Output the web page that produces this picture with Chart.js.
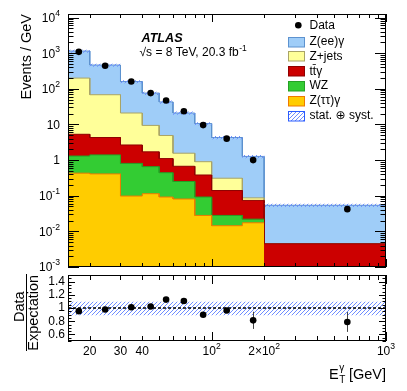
<!DOCTYPE html>
<html>
<head>
<meta charset="utf-8">
<title>Z(ee)γ photon ET</title>
<script src="https://cdn.jsdelivr.net/npm/chart.js@4.4.1/dist/chart.umd.min.js"></script>
<style>
  body { margin: 0; background: #fff; }
  #wrap { position: relative; width: 407px; height: 391px; overflow: hidden; }
  canvas { position: absolute; left: 0; }
  #mainChart { top: 0; }
  #ratioChart { top: 271px; }
</style>
</head>
<body>
<div id="wrap">
  <canvas id="mainChart" width="407" height="271"></canvas>
  <canvas id="ratioChart" width="407" height="120"></canvas>
</div>
<script>
const FONT = "'Liberation Sans', Arial, Helvetica, 'DejaVu Sans', sans-serif";

// photon ET bin edges [GeV]
const binEdges = [15, 20, 30, 40, 50, 60, 80, 100, 150, 200, 1000];

// expected events / GeV per process
const zeeGamma = [950, 397, 139, 66.6, 38, 19.4, 9.7, 4.0, 1.18, 0.0495];
const zJets    = [195, 64, 18.3, 7.7, 3.8, 0.89, 0.52, 0.17, 0.013, 0];
const ttGamma  = [4.0, 2.9, 1.85, 1.05, 0.66, 0.42, 0.29, 0.112, 0.052, 0.0045];
const wz       = [0.87, 0.99, 0.71, 0.54, 0.35, 0.17, 0.064, 0.0136, 0.0046, 0];
const zTauTau  = [0.43, 0.41, 0.098, 0.114, 0.092, 0.081, 0.028, 0.0144, 0.0174, 0];

// data
const dataX = [17.3, 24.5, 34.6, 44.7, 54.8, 69.3, 89.4, 122, 173, 600];
const dataY = [1090, 445, 160, 76, 47, 23.4, 9.6, 4.0, 1.0, 0.042];

// data / expectation
const ratioY   = [0.952, 0.978, 1.012, 1.022, 1.127, 1.107, 0.898, 0.963, 0.813, 0.788];
const ratioErr = [0.02, 0.02, 0.02, 0.025, 0.03, 0.03, 0.035, 0.04, 0.13, 0.15];

// stat (+) syst band, relative to expectation
const bandUp   = [1.095, 1.095, 1.095, 1.095, 1.095, 1.095, 1.095, 1.095, 1.095, 1.095];
const bandDown = [0.89, 0.89, 0.89, 0.89, 0.89, 0.89, 0.89, 0.89, 0.89, 0.89];

// ticks
const yDecades = [-3, -2, -1, 0, 1, 2, 3, 4];
const xTickValues = [20, 30, 40, 100, 200, 1000];
const xTickLabels = [['20', ''], ['30', ''], ['40', ''], ['10', '2'], ['2×10', '2'], ['10', '3']];
const ratioTickValues = [0.6, 0.8, 1, 1.2, 1.4];
const ratioTickLabels = ['0.6', '0.8', '1', '1.2', '1.4'];

// colours
const COL = {
  zee:   { fill: '#9fcdf8', line: '#5d92cf' },
  zjets: { fill: '#ffff99', line: '#a9a467' },
  tt:    { fill: '#cc0000', line: '#8f0000' },
  wz:    { fill: '#33cc33', line: '#25a025' },
  ztt:   { fill: '#ffcc00', line: '#ee7a00' }
};
const HATCH = '#6e8dff';

function cumulate(parts) {
  return parts[0].map((_, i) => parts.reduce((s, p) => s + p[i], 0));
}

function steps(values) {
  const pts = [];
  values.forEach((v, i) => {
    const y = v > 0 ? v : null;
    pts.push({ x: binEdges[i], y }, { x: binEdges[i + 1], y });
  });
  return pts;
}

function makeHatch(ctx, color) {
  const s = 4;
  const c = document.createElement('canvas');
  c.width = s; c.height = s;
  const g = c.getContext('2d');
  g.strokeStyle = color;
  g.lineWidth = 1;
  g.beginPath();
  g.moveTo(0, s); g.lineTo(s, 0);
  g.moveTo(-1, 1); g.lineTo(1, -1);
  g.moveTo(s - 1, s + 1); g.lineTo(s + 1, s - 1);
  g.stroke();
  return ctx.createPattern(c, 'repeat');
}

function histSet(label, values, col) {
  return {
    label, data: steps(values),
    borderColor: col.line, borderWidth: 1, backgroundColor: col.fill,
    fill: 'start', pointRadius: 0, tension: 0
  };
}

// text with optional superscript, aligned on x ('left' | 'center' | 'right')
function supText(ctx, base, sup, x, y, size, align) {
  ctx.font = `${size}px ${FONT}`;
  const wb = ctx.measureText(base).width;
  const ss = size * 0.72;
  ctx.font = `${ss}px ${FONT}`;
  const ws = sup ? ctx.measureText(sup).width : 0;
  const tot = wb + ws;
  const x0 = align === 'right' ? x - tot : align === 'center' ? x - tot / 2 : x;
  ctx.textAlign = 'left';
  ctx.textBaseline = 'middle';
  ctx.font = `${size}px ${FONT}`;
  ctx.fillText(base, x0, y);
  if (sup) {
    ctx.font = `${ss}px ${FONT}`;
    ctx.fillText(sup, x0 + wb, y - size * 0.42);
  }
}

function drawXTicks(ctx, a, x, minorLen, majorLen) {
  for (let d = 1; d <= 3; d++) {
    for (let k = 1; k <= 9; k++) {
      const v = k * Math.pow(10, d);
      if (v < x.min || v > x.max) continue;
      const px = Math.round(x.getPixelForValue(v)) + 0.5;
      const len = k === 1 ? majorLen : minorLen;
      ctx.moveTo(px, a.bottom); ctx.lineTo(px, a.bottom - len);
      ctx.moveTo(px, a.top); ctx.lineTo(px, a.top + len);
    }
  }
}

function drawFrame(ctx, a) {
  ctx.strokeRect(Math.round(a.left) + 0.5, Math.round(a.top) + 0.5,
    Math.round(a.right - a.left) - 1, Math.round(a.bottom - a.top) - 1);
}

const cumZtt = zTauTau;
const cumWz = cumulate([zTauTau, wz]);
const cumTt = cumulate([zTauTau, wz, ttGamma]);
const cumZj = cumulate([zTauTau, wz, ttGamma, zJets]);
const total = cumulate([zTauTau, wz, ttGamma, zJets, zeeGamma]);

const mainDecor = {
  id: 'mainDecor',
  afterDraw(chart) {
    const { ctx, chartArea: a, scales: { x, y } } = chart;
    ctx.save();
    ctx.strokeStyle = '#000';
    ctx.lineWidth = 1;
    ctx.beginPath();
    yDecades.forEach(d => {
      for (let k = 1; k <= 9; k++) {
        const v = k * Math.pow(10, d);
        if (v < y.min * 0.999 || v > y.max) continue;
        const py = Math.round(y.getPixelForValue(v)) + 0.5;
        const len = k === 1 ? 11 : 5.5;
        ctx.moveTo(a.left, py); ctx.lineTo(a.left + len, py);
        ctx.moveTo(a.right, py); ctx.lineTo(a.right - len, py);
      }
    });
    drawXTicks(ctx, a, x, 4, 8);
    ctx.stroke();
    drawFrame(ctx, a);

    // y tick labels
    ctx.fillStyle = '#000';
    yDecades.forEach(d => {
      const py = y.getPixelForValue(Math.pow(10, d)) + 1;
      if (d === 0) supText(ctx, '1', '', 60, py, 12, 'right');
      else if (d === 1) supText(ctx, '10', '', 60, py, 12, 'right');
      else supText(ctx, '10', String(d), 60, py, 12, 'right');
    });

    // y title
    ctx.save();
    ctx.translate(27, 14);
    ctx.rotate(-Math.PI / 2);
    ctx.font = `14.5px ${FONT}`;
    ctx.textAlign = 'right';
    ctx.textBaseline = 'middle';
    ctx.fillText('Events / GeV', 0, 0);
    ctx.restore();

    // ATLAS label
    ctx.textAlign = 'left';
    ctx.textBaseline = 'alphabetic';
    ctx.font = `italic bold 12.6px ${FONT}`;
    ctx.fillText('ATLAS', 141.5, 41.7);
    ctx.font = `12px ${FONT}`;
    const lumi = '√s = 8 TeV, 20.3 fb';
    ctx.fillText(lumi, 139.5, 56);
    const lw = ctx.measureText(lumi).width;
    ctx.font = `8.5px ${FONT}`;
    ctx.fillText('-1', 139.5 + lw + 0.5, 50.5);

    // legend
    ctx.textBaseline = 'middle';
    ctx.font = `12px ${FONT}`;
    ctx.beginPath();
    ctx.arc(298.3, 25.3, 3.3, 0, Math.PI * 2);
    ctx.fill();
    ctx.fillText('Data', 309.5, 25.3);
    const items = [
      ['Z(ee)γ', COL.zee], ['Z+jets', COL.zjets], ['tt\u0304γ', COL.tt],
      ['WZ', COL.wz], ['Z(ττ)γ', COL.ztt], ['stat. ⊕ syst.', null]
    ];
    items.forEach(([label, col], i) => {
      const cy = 41.7 + 14.76 * i;
      const bx = 288.5, by = Math.round(cy - 5) + 0.5;
      if (col) {
        ctx.fillStyle = col.fill;
        ctx.fillRect(bx, by, 16, 9.5);
        ctx.strokeStyle = col.line;
      } else {
        ctx.fillStyle = chart.$hatch;
        ctx.fillRect(bx, by, 16, 9.5);
        ctx.strokeStyle = '#2a5cff';
      }
      ctx.strokeRect(bx, by, 16, 9.5);
      ctx.fillStyle = '#000';
      ctx.fillText(label, 309.5, cy);
    });
    ctx.restore();
  }
};

const ratioDecor = {
  id: 'ratioDecor',
  afterDatasetDraw(chart, args) {
    if (args.index !== 1) return;
    const { ctx, scales: { x, y } } = chart;
    ctx.save();
    ctx.strokeStyle = '#444';
    ctx.lineWidth = 1;
    ctx.beginPath();
    ratioY.forEach((r, i) => {
      const px = Math.round(x.getPixelForValue(dataX[i])) + 0.5;
      ctx.moveTo(px, y.getPixelForValue(r + ratioErr[i]));
      ctx.lineTo(px, y.getPixelForValue(r - ratioErr[i]));
    });
    ctx.stroke();
    ctx.restore();
  },
  afterDraw(chart) {
    const { ctx, chartArea: a, scales: { x, y } } = chart;
    ctx.save();
    ctx.strokeStyle = '#000';
    ctx.lineWidth = 1;
    ctx.beginPath();
    for (let i = 0; i <= 20; i++) {
      const v = 0.5 + i * 0.05;
      const py = Math.round(y.getPixelForValue(v)) + 0.5;
      const major = ratioTickValues.some(t => Math.abs(t - v) < 1e-6);
      const len = major ? 7 : 3.5;
      ctx.moveTo(a.left, py); ctx.lineTo(a.left + len, py);
      ctx.moveTo(a.right, py); ctx.lineTo(a.right - len, py);
    }
    drawXTicks(ctx, a, x, 5, 9);
    ctx.stroke();
    drawFrame(ctx, a);

    ctx.fillStyle = '#000';
    ratioTickValues.forEach((v, i) => {
      supText(ctx, ratioTickLabels[i], '', 65, y.getPixelForValue(v), 12, 'right');
    });
    xTickValues.forEach((v, i) => {
      supText(ctx, xTickLabels[i][0], xTickLabels[i][1], x.getPixelForValue(v), 81, 12, 'center');
    });

    // y title as a fraction
    ctx.save();
    ctx.font = `14.5px ${FONT}`;
    ctx.textAlign = 'center';
    ctx.textBaseline = 'middle';
    ctx.translate(20, 35.7);
    ctx.rotate(-Math.PI / 2);
    ctx.fillText('Data', 0, 0);
    ctx.restore();
    ctx.save();
    ctx.font = `14.5px ${FONT}`;
    ctx.textAlign = 'center';
    ctx.textBaseline = 'middle';
    ctx.translate(34, 41.8);
    ctx.rotate(-Math.PI / 2);
    ctx.fillText('Expectation', 0, 0);
    ctx.restore();
    ctx.beginPath();
    ctx.moveTo(26.5, 3); ctx.lineTo(26.5, 80);
    ctx.stroke();

    // x title  E_T^gamma [GeV]
    const base = 108.3;
    ctx.textAlign = 'left';
    ctx.textBaseline = 'alphabetic';
    ctx.font = `14.5px ${FONT}`;
    const wE = ctx.measureText('E').width;
    const wRest = ctx.measureText(' [GeV]').width;
    ctx.font = `10px ${FONT}`;
    const wSub = Math.max(ctx.measureText('T').width, ctx.measureText('γ').width);
    const x0 = 386 - wRest - wSub - wE;
    ctx.font = `14.5px ${FONT}`;
    ctx.fillText('E', x0, base);
    ctx.fillText(' [GeV]', x0 + wE + wSub, base);
    ctx.font = `10px ${FONT}`;
    ctx.fillText('T', x0 + wE + 0.5, base + 4);
    ctx.fillText('γ', x0 + wE + 0.5, base - 8);
    ctx.restore();
  }
};

function baseOptions(yScale, padding) {
  return {
    responsive: false,
    animation: false,
    events: [],
    layout: { padding },
    plugins: { legend: { display: false }, tooltip: { enabled: false } },
    scales: {
      x: { type: 'logarithmic', min: 15, max: 1000, display: false },
      y: yScale
    }
  };
}

const ctxMain = document.getElementById('mainChart').getContext('2d');
const hatchMain = makeHatch(ctxMain, HATCH);

const mainChart = new Chart(ctxMain, {
  type: 'line',
  data: {
    datasets: [
      {
        label: 'Data', data: dataX.map((x, i) => ({ x, y: dataY[i] })),
        showLine: false, pointRadius: 3.3, pointBackgroundColor: '#000', pointBorderWidth: 0
      },
      {
        label: 'stat. ⊕ syst. up', data: steps(total.map((t, i) => t * bandUp[i])),
        borderColor: 'transparent', borderWidth: 0, backgroundColor: hatchMain, fill: '+1', pointRadius: 0
      },
      {
        label: 'stat. ⊕ syst. down', data: steps(total.map((t, i) => t * bandDown[i])),
        borderColor: 'transparent', borderWidth: 0, fill: false, pointRadius: 0
      },
      histSet('Z(ττ)γ', cumZtt, COL.ztt),
      histSet('WZ', cumWz, COL.wz),
      histSet('tt̄γ', cumTt, COL.tt),
      histSet('Z+jets', cumZj, COL.zjets),
      histSet('Z(ee)γ', total, COL.zee)
    ]
  },
  options: baseOptions({ type: 'logarithmic', min: 1e-3, max: Math.pow(10, 4.1), display: false },
    { left: 68, right: 21, top: 14, bottom: 3 }),
  plugins: [mainDecor]
});
mainChart.$hatch = hatchMain;
mainChart.draw();

const ctxRatio = document.getElementById('ratioChart').getContext('2d');
const hatchRatio = makeHatch(ctxRatio, HATCH);

new Chart(ctxRatio, {
  type: 'line',
  data: {
    datasets: [
      {
        label: 'Data / Expectation', data: dataX.map((x, i) => ({ x, y: ratioY[i] })),
        showLine: false, pointRadius: 3.3, pointBackgroundColor: '#000', pointBorderWidth: 0
      },
      {
        label: 'unity', data: [{ x: 15, y: 1 }, { x: 1000, y: 1 }],
        borderColor: '#000', borderWidth: 1.5, borderDash: [3, 2], pointRadius: 0, fill: false
      },
      {
        label: 'band up', data: steps(bandUp),
        borderColor: 'transparent', borderWidth: 0, backgroundColor: hatchRatio, fill: '+1', pointRadius: 0
      },
      {
        label: 'band down', data: steps(bandDown),
        borderColor: 'transparent', borderWidth: 0, fill: false, pointRadius: 0
      }
    ]
  },
  options: baseOptions({ type: 'linear', min: 0.5, max: 1.5, display: false },
    { left: 68, right: 21, top: 3, bottom: 50 }),
  plugins: [ratioDecor]
});
</script>
</body>
</html>
